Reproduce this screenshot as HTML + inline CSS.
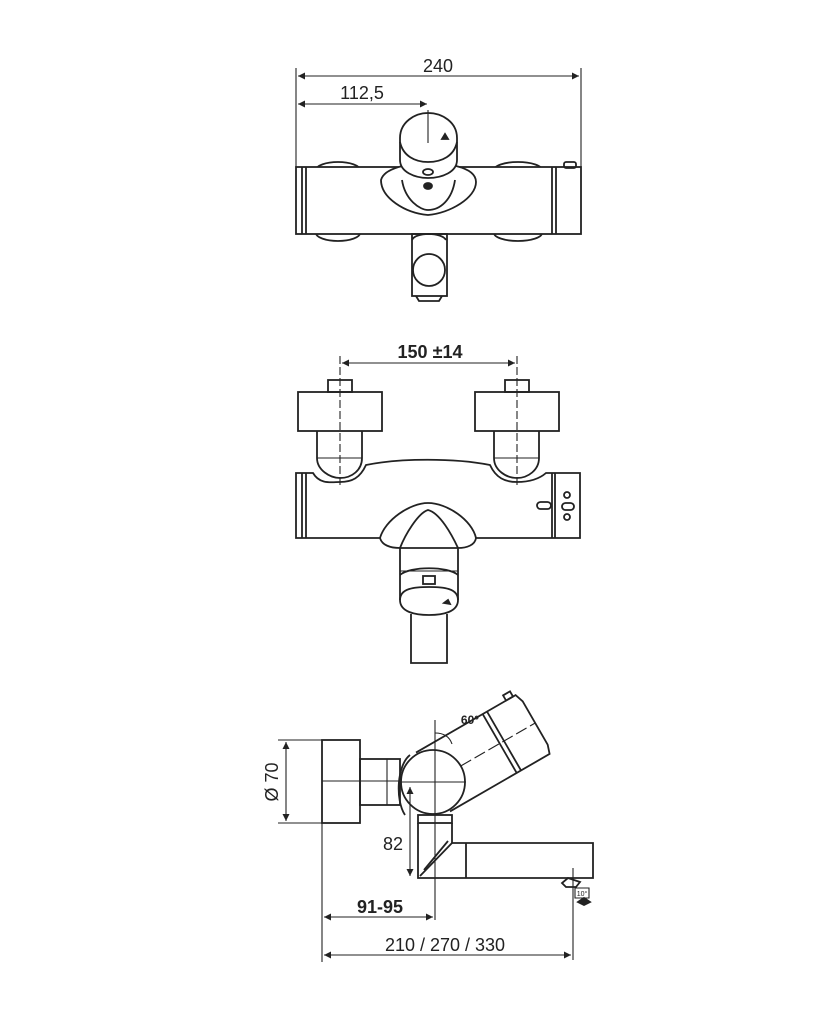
<!DOCTYPE html>
<html><head><style>html,body{margin:0;padding:0;background:#fff}svg{display:block}text{font-family:"Liberation Sans",sans-serif;fill:#222}</style></head>
<body>
<svg width="829" height="1024" viewBox="0 0 829 1024" xmlns="http://www.w3.org/2000/svg">
<defs>
<marker id="a" viewBox="0 0 10 10" refX="10" refY="5" markerWidth="10" markerHeight="7" orient="auto-start-reverse" markerUnits="userSpaceOnUse"><path d="M0,0L10,5L0,10z" fill="#222"/></marker>
</defs>
<g fill="none" stroke="#222" stroke-width="1.8">
<!-- TOP VIEW -->
<line x1="296" y1="68" x2="296" y2="168" stroke-width="1.1"/>
<line x1="581" y1="68" x2="581" y2="168" stroke-width="1.1"/>
<line x1="298" y1="76" x2="579" y2="76" stroke-width="1.1" marker-start="url(#a)" marker-end="url(#a)"/>
<line x1="298" y1="104" x2="427" y2="104" stroke-width="1.1" marker-start="url(#a)" marker-end="url(#a)"/>
<ellipse cx="338" cy="170" rx="22" ry="8"/>
<ellipse cx="518" cy="170" rx="24" ry="8"/>
<ellipse cx="338" cy="233" rx="22" ry="8"/>
<ellipse cx="518" cy="233" rx="24" ry="8"/>
<rect x="296" y="167" width="285" height="67" fill="#fff"/>
<line x1="302" y1="167" x2="302" y2="234"/><line x1="306" y1="167" x2="306" y2="234"/>
<line x1="552" y1="167" x2="552" y2="234"/><line x1="556" y1="167" x2="556" y2="234"/>
<rect x="564" y="162" width="12" height="6" rx="2"/>
<path d="M381,180 C385,165 420,163 428,163 C440,163 476,165 476,182 C476,198 450,213 428,215 C405,213 381,198 381,180Z" fill="#fff"/>
<path d="M402,180 C405,200 420,210 428,210 C440,210 452,200 455,180"/>
<path d="M400,138 C400,122 415,113 428,113 C442,113 457,122 457,138 L457,160 C457,172 442,178 428,178 C415,178 400,172 400,160Z" fill="#fff"/>
<path d="M400,142 C403,156 415,162 428,162 C442,162 454,156 457,142"/>
<line x1="428" y1="110" x2="428" y2="143" stroke-width="1.1"/>
<ellipse cx="428" cy="172" rx="5" ry="3"/>
<ellipse cx="428" cy="186" rx="4" ry="3" fill="#222"/>
<path d="M442,139 l3,-5 l3,5z" fill="#222"/>
<path d="M412,240 C415,232 442,232 446,240"/>
<rect x="412" y="234" width="35" height="62"/>
<circle cx="429" cy="270" r="16" fill="#fff"/>
<path d="M416,296 l3,5 h20 l3,-5"/>
<!-- FRONT VIEW -->
<line x1="340" y1="356" x2="340" y2="485" stroke-width="1.1" stroke-dasharray="8,3"/>
<line x1="517" y1="356" x2="517" y2="485" stroke-width="1.1" stroke-dasharray="8,3"/>
<line x1="342" y1="363" x2="515" y2="363" stroke-width="1.1" marker-start="url(#a)" marker-end="url(#a)"/>
<rect x="328" y="380" width="24" height="12"/>
<rect x="505" y="380" width="24" height="12"/>
<rect x="298" y="392" width="84" height="39"/>
<rect x="475" y="392" width="84" height="39"/>
<path d="M317,431 V458 C317,470 330,478 340,478 C352,478 362,470 362,458 V431"/>
<line x1="317" y1="458" x2="362" y2="458" stroke-width="1.1"/>
<path d="M494,431 V458 C494,470 506,478 517,478 C528,478 539,470 539,458 V431"/>
<line x1="494" y1="458" x2="539" y2="458" stroke-width="1.1"/>
<path d="M296,473 H313 C320,485 332,482 340,482 C352,482 360,478 366,465 C400,458 455,458 490,465 C496,478 505,482 517,482 C528,482 538,480 546,473 H580 V538 H296Z"/>
<line x1="302" y1="473" x2="302" y2="538"/><line x1="306" y1="473" x2="306" y2="538"/>
<line x1="552" y1="473" x2="552" y2="538"/><line x1="555" y1="473" x2="555" y2="538"/>
<rect x="537" y="502" width="14" height="7" rx="3.5"/>
<circle cx="567" cy="495" r="3"/><circle cx="567" cy="517" r="3"/>
<rect x="562" y="503" width="12" height="7" rx="3.5"/>
<path d="M380,538 C385,520 410,503 428,503 C447,503 472,520 476,538 C475,545 467,548 458,548 L400,548 C390,548 382,545 380,538Z" fill="#fff"/>
<path d="M400,548 C405,535 418,513 428,510 C440,513 452,535 458,548"/>
<path d="M400,548 V600 M458,548 V600"/>
<path d="M400,575 C410,566 448,566 458,575"/>
<line x1="400" y1="571" x2="458" y2="571" stroke-width="1.1"/>
<rect x="423" y="576" width="12" height="8"/>
<path d="M400,600 C400,588 415,587 429,587 C443,587 458,588 458,600 C458,612 443,615 429,615 C415,615 400,612 400,600Z"/>
<path d="M444,603 l4,-3 l2,4z" fill="#222"/>
<path d="M411,614 V663 H447 V614"/>
<!-- SIDE VIEW -->
<line x1="278" y1="740" x2="322" y2="740" stroke-width="1.1"/>
<line x1="278" y1="823" x2="322" y2="823" stroke-width="1.1"/>
<line x1="286" y1="742" x2="286" y2="821" stroke-width="1.1" marker-start="url(#a)" marker-end="url(#a)"/>
<rect x="322" y="740" width="38" height="83"/>
<line x1="322" y1="781" x2="470" y2="781" stroke-width="1.1"/>
<rect x="360" y="759" width="40" height="46"/>
<line x1="387" y1="759" x2="387" y2="805" stroke-width="1.1"/>
<g transform="translate(433,782) rotate(-30)">
<path d="M0,-34 H115 L118,-25 V25 L115,34 H0" fill="#fff"/>
<line x1="77" y1="-34" x2="77" y2="34"/><line x1="82" y1="-34" x2="82" y2="34"/>
<rect x="104" y="-40" width="8" height="6"/>
<line x1="0" y1="0" x2="118" y2="0" stroke-width="1.1" stroke-dasharray="12,4"/>
</g>
<path d="M405,815 C395,800 397,765 410,755"/>
<circle cx="433" cy="782" r="32" fill="#fff"/>
<line x1="400" y1="782" x2="466" y2="782" stroke-width="1.1"/>
<line x1="435" y1="720" x2="435" y2="920" stroke-width="1.1"/>
<path d="M435,733 C445,733 450,738 452,744" stroke-width="1.1"/>
<rect x="418" y="815" width="34" height="8"/>
<path d="M418,823 V878 H593 V843 H452 V823"/>
<line x1="466" y1="843" x2="466" y2="878"/>
<path d="M452,843 L420,876" /><path d="M448,841 L424,870"/>
<path d="M568,878 l-6,5 l4,4 h10 l4,-5z" fill="#fff"/>
<line x1="573" y1="868" x2="573" y2="960" stroke-width="1.1"/>
<path d="M575,888 h14 v10 h-14z" stroke-width="1.1"/>
<path d="M578,902 l6,-4 l6,4 l-6,3z" fill="#222"/>
<line x1="410" y1="787" x2="410" y2="876" stroke-width="1.1" marker-start="url(#a)" marker-end="url(#a)"/>
<line x1="322" y1="823" x2="322" y2="962" stroke-width="1.1"/>
<line x1="324" y1="917" x2="433" y2="917" stroke-width="1.1" marker-start="url(#a)" marker-end="url(#a)"/>
<line x1="324" y1="955" x2="571" y2="955" stroke-width="1.1" marker-start="url(#a)" marker-end="url(#a)"/>
</g>
<text x="438" y="72" font-size="18" text-anchor="middle">240</text>
<text x="362" y="99" font-size="18" text-anchor="middle">112,5</text>
<text x="430" y="358" font-size="18" text-anchor="middle" font-weight="bold">150 ±14</text>
<text x="470" y="724" font-size="12" text-anchor="middle" font-weight="bold">60°</text>
<text x="393" y="850" font-size="18" text-anchor="middle">82</text>
<text x="380" y="913" font-size="18" text-anchor="middle" font-weight="bold">91-95</text>
<text x="445" y="951" font-size="18" text-anchor="middle">210 / 270 / 330</text>
<text x="582" y="896" font-size="7" text-anchor="middle">10°</text>
<text transform="translate(278,782) rotate(-90)" font-size="18" text-anchor="middle">Ø 70</text>
</svg>
</body></html>
